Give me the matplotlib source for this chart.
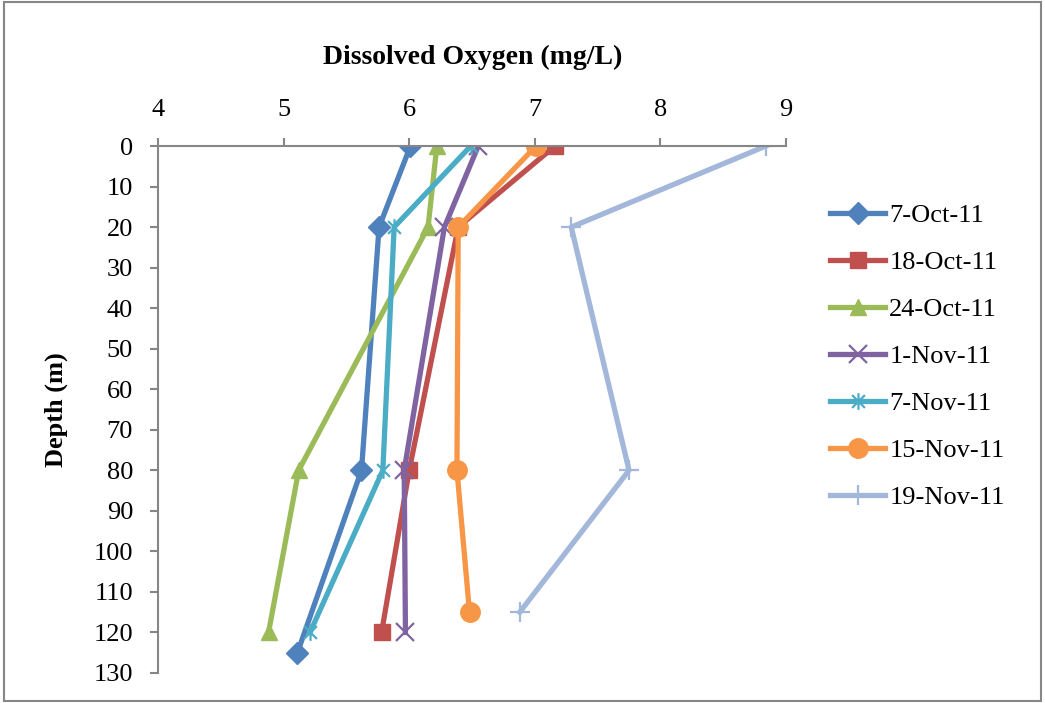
import matplotlib.pyplot as plt
import matplotlib.path as mpath
from matplotlib.patches import Rectangle

plt.rcParams["font.family"] = ["Liberation Serif", "DejaVu Serif"]

labels = ["7-Oct-11", "18-Oct-11", "24-Oct-11", "1-Nov-11", "7-Nov-11", "15-Nov-11", "19-Nov-11"]
depths = [
    [0, 20, 80, 125],
    [0, 20, 80, 120],
    [0, 20, 80, 120],
    [0, 20, 80, 120],
    [0, 20, 80, 120],
    [0, 20, 80, 115],
    [0, 20, 80, 115],
]
oxygen = [
    [6.01, 5.76, 5.62, 5.11],
    [7.16, 6.39, 6.00, 5.78],
    [6.22, 6.15, 5.12, 4.88],
    [6.55, 6.28, 5.96, 5.97],
    [6.49, 5.88, 5.79, 5.21],
    [7.01, 6.39, 6.38, 6.48],
    [8.84, 7.29, 7.75, 6.88],
]
x_ticks = [4, 5, 6, 7, 8, 9]
y_ticks = list(range(0, 140, 10))

colors = ["#4F81BD", "#C0504D", "#9BBB59", "#8064A2", "#4BACC6", "#F79646", "#A2B7DA"]

# asterisk marker: an x with a vertical bar through it
star = mpath.Path(
    [(-1, -1), (1, 1), (-1, 1), (1, -1), (0, -1.3), (0, 1.3)],
    [mpath.Path.MOVETO, mpath.Path.LINETO] * 3,
)
markers = ["D", "s", "^", "x", star, "o", "+"]
msizes = [11, 12, 12, 13, 12, 14, 14]
mews = [1, 1, 1, 1.6, 1.6, 1, 1.6]

fig = plt.figure(figsize=(10.45, 7.03), dpi=100)
ax = fig.add_axes([0.1512, 0.0427, 0.6010, 0.7496])

for d, ox, lab, c, m, ms, mew in zip(depths, oxygen, labels, colors, markers, msizes, mews):
    ax.plot(ox, d, color=c, lw=3.8, marker=m, markersize=ms,
            markeredgewidth=mew, markeredgecolor=c, markerfacecolor=c,
            label=lab, solid_joinstyle="round")

ax.set_xlim(4, 9)
ax.set_ylim(130, 0)
ax.set_xticks(x_ticks)
ax.set_yticks(y_ticks)
ax.xaxis.tick_top()
ax.tick_params(axis="x", which="both", top=True, bottom=False, length=6,
               width=1.5, color="#868686", labelsize=19, pad=12)
ax.tick_params(axis="y", length=6, width=1.5, color="#868686",
               labelsize=19, pad=12)
for side in ["right", "bottom"]:
    ax.spines[side].set_visible(False)
for side in ["top", "left"]:
    ax.spines[side].set_color("#868686")
    ax.spines[side].set_linewidth(1.5)

ax.set_ylabel("Depth (m)", fontsize=19, fontweight="bold", labelpad=18)
fig.text(0.452, 0.918, "Dissolved Oxygen (mg/L)", fontsize=20,
         fontweight="bold", ha="center", va="center")

ax.legend(loc="upper left", bbox_to_anchor=(1.053, 0.91), frameon=False,
          fontsize=19, handlelength=2.1, handletextpad=0.15,
          labelspacing=0.89, borderaxespad=0)

fig.patches.append(Rectangle((0.004, 0.003), 0.992, 0.994, transform=fig.transFigure,
                             fill=False, edgecolor="#868686", linewidth=1.5))

fig.savefig("out.png", dpi=100)
